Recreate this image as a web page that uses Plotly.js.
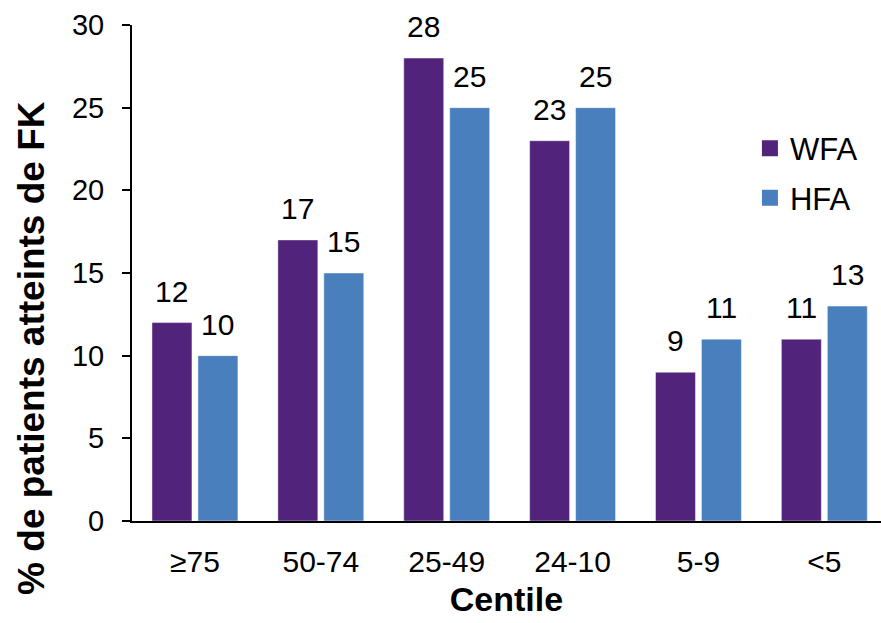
<!DOCTYPE html>
<html><head><meta charset="utf-8">
<script src="https://cdn.plot.ly/plotly-3.0.1.min.js"></script>
<style>html,body{margin:0;padding:0;background:#fff}#chart{width:881px;height:623px}</style>
</head><body><div id="chart"></div>
<script>
const categories = ["≥75", "50-74", "25-49", "24-10", "5-9", "<5"];
const wfaValues = [12, 17, 28, 23, 9, 11];
const hfaValues = [10, 15, 25, 25, 11, 13];
const seriesNames = ["WFA", "HFA"];
const seriesColors = ["#52237A", "#4A7FBE"];
const yTicks = [0, 5, 10, 15, 20, 25, 30];
const yTitle = "% de patients atteints de FK";
const xTitle = "Centile";

const font = "Arial, 'Liberation Sans', sans-serif";
const series = [wfaValues, hfaValues];
const data = [];
series.forEach((vals, i) => {
  data.push({
    type: "bar", name: seriesNames[i], x: categories, y: vals,
    marker: {color: seriesColors[i], line: {color: "rgba(255,255,255,0.45)", width: 1}},
    showlegend: false, hoverinfo: "none"
  });
});
series.forEach((vals, i) => {
  data.push({
    type: "scatter", mode: "markers", name: seriesNames[i], x: [null], y: [null],
    marker: {symbol: "square", size: 16, color: seriesColors[i]},
    legendgroup: "g" + i, showlegend: true
  });
});
const annotations = [];
series.forEach((vals, i) => {
  vals.forEach((v, j) => {
    annotations.push({
      x: categories[j], y: v, xref: "x", yref: "y",
      text: String(v), showarrow: false, yanchor: "bottom",
      xshift: i === 0 ? -23 : 23, yshift: 13,
      font: {family: font, size: 30, color: "#000"}
    });
  });
});
annotations.push({
  xref: "paper", yref: "paper", x: -0.1335, y: 0.349, xanchor: "center", yanchor: "middle",
  text: "<b>" + yTitle + "</b>", textangle: -90, showarrow: false,
  font: {family: font, size: 37, color: "#000"}
});
const layout = {
  width: 881, height: 623,
  margin: {l: 132, r: 0, t: 25, b: 102},
  paper_bgcolor: "#fff", plot_bgcolor: "#fff",
  barmode: "group", bargap: 0.27, bargroupgap: 0.13,
  font: {family: font, color: "#000"},
  showlegend: true,
  annotations: annotations,
  legend: {x: 0.825, y: 0.805, xanchor: "left", yanchor: "top",
           font: {size: 31, family: font, color: "#000"},
           bgcolor: "rgba(0,0,0,0)", tracegroupgap: 6, traceorder: "grouped", itemwidth: 30},
  xaxis: {
    type: "category", range: [-0.5, 5.45], fixedrange: true,
    showline: true, linecolor: "#000", linewidth: 2,
    ticks: "", tickfont: {size: 30, family: font, color: "#000"}, ticklabelstandoff: 13,
    title: {text: "<b>" + xTitle + "</b>", font: {size: 34, family: font, color: "#000"}, standoff: 10}
  },
  yaxis: {
    range: [0, 30], tickvals: yTicks, showgrid: false, zeroline: false,
    showline: true, linecolor: "#000", linewidth: 2,
    ticks: "outside", ticklen: 8, tickwidth: 2, tickcolor: "#000",
    tickfont: {size: 29, family: font, color: "#000"}, ticklabelstandoff: 12
  }
};
Plotly.newPlot("chart", data, layout, {displayModeBar: false, staticPlot: true});
</script></body></html>
